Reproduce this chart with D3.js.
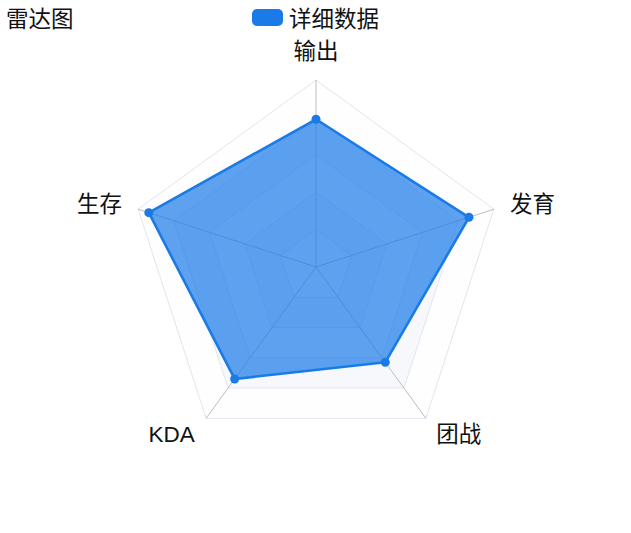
<!DOCTYPE html>
<html><head><meta charset="utf-8">
<script src="https://cdn.jsdelivr.net/npm/d3@7/dist/d3.min.js"></script>
<style>
html,body{margin:0;padding:0;background:#fff;}
svg{display:block;font-family:"Liberation Sans","Noto Sans CJK SC",sans-serif;}
</style></head>
<body>
<svg id="chart" width="631" height="533"></svg>
<script>
const titleText = "雷达图";
const seriesName = "详细数据";
const indicators = ["输出", "发育", "团战", "KDA", "生存"];
const maxValues = [100, 100, 100, 100, 100];
const values = [79, 86, 63, 74, 94];
const splitCount = 5;

const W = 631, H = 533;
const cx = 316, cy = 267, R = 187;
const lineColor = "#1a7be8";
const textColor = "#111";
const fontSize = 22.5;

const svg = d3.select("#chart");
const n = indicators.length;
const angle = i => -Math.PI / 2 + i * 2 * Math.PI / n;
const rScale = d3.scaleLinear().domain([0, 1]).range([0, R]);

const g = svg.append("g").attr("transform", `translate(${cx},${cy})`);

const ringPts = lvl => indicators.map((d, i) => [rScale(lvl) * Math.cos(angle(i)), rScale(lvl) * Math.sin(angle(i))]);
const closed = d3.line().curve(d3.curveLinearClosed);

// split areas
const areaColors = ["rgba(250,250,250,0.2)", "rgba(210,219,238,0.2)"];
for (let k = 0; k < splitCount; k++) {
  const outer = closed(ringPts((k + 1) / splitCount));
  const inner = k === 0 ? "" : closed(ringPts(k / splitCount));
  g.append("path").attr("d", outer + inner).attr("fill-rule", "evenodd")
    .attr("fill", areaColors[k % 2]);
}
// split lines
for (let k = 1; k <= splitCount; k++) {
  g.append("path").attr("d", closed(ringPts(k / splitCount)))
    .attr("fill", "none").attr("stroke", "#E0E6F1").attr("stroke-width", 1);
}
// axis lines
indicators.forEach((d, i) => {
  g.append("line").attr("x1", 0).attr("y1", 0)
    .attr("x2", rScale(1) * Math.cos(angle(i))).attr("y2", rScale(1) * Math.sin(angle(i)))
    .attr("stroke", "#bdbdbd").attr("stroke-width", 1);
});

// data
const pts = values.map((v, i) => {
  const r = rScale(v / maxValues[i]);
  return [r * Math.cos(angle(i)), r * Math.sin(angle(i))];
});
g.append("path").attr("d", closed(pts))
  .attr("fill", lineColor).attr("fill-opacity", 0.7)
  .attr("stroke", lineColor).attr("stroke-width", 2.6).attr("stroke-linejoin", "round");
g.selectAll("circle.pt").data(pts).join("circle").attr("class", "pt")
  .attr("cx", d => d[0]).attr("cy", d => d[1]).attr("r", 4.5)
  .attr("fill", lineColor);

// indicator labels
const gap = 16;
indicators.forEach((name, i) => {
  const a = angle(i);
  const c = Math.cos(a), s = Math.sin(a);
  const x = (R + gap) * c, y = (R + gap) * s;
  let anchor = Math.abs(c) < 0.1 ? "middle" : (c > 0 ? "start" : "end");
  let dy, dx = 0;
  if (s < -0.5) dy = -5;
  else if (s > 0.5) { dy = 11; dx = c > 0 ? 1 : -2; }
  else { dy = 8; dx = c > 0 ? 1 : -1; }
  g.append("text").attr("x", x + dx).attr("y", y + dy)
    .attr("text-anchor", anchor)
    .attr("font-size", fontSize).attr("fill", textColor)
    .text(name);
});

// title
svg.append("text").attr("x", 6).attr("y", 27).attr("font-size", fontSize).attr("fill", textColor).text(titleText);

// legend
svg.append("rect").attr("x", 252).attr("y", 9).attr("width", 31).attr("height", 17).attr("rx", 5)
  .attr("fill", lineColor);
svg.append("text").attr("x", 289).attr("y", 27).attr("font-size", fontSize).attr("fill", textColor).text(seriesName);
</script>
</body></html>
